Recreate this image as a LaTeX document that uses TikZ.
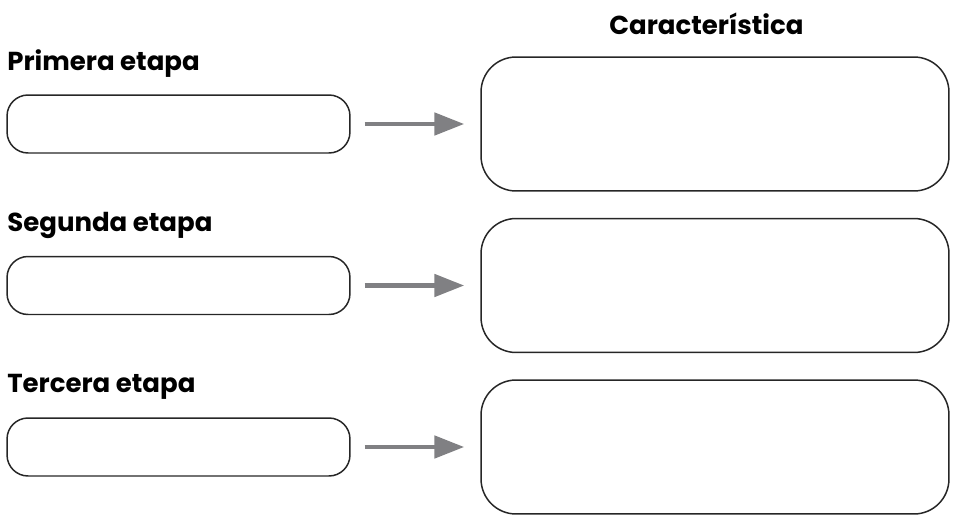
\documentclass[tikz,border=0pt]{standalone}
\usepackage{fontspec}
\setmainfont{Poppins}
\usetikzlibrary{arrows.meta}
\definecolor{flechagris}{RGB}{128,128,131}
\tikzset{
  etapa/.style={draw=black!85,line width=0.85pt,rounded corners=0.42cm,minimum width=6.86cm,minimum height=1.16cm,inner sep=0pt},
  caract/.style={draw=black!85,line width=0.85pt,rounded corners=0.7cm,minimum width=9.36cm,minimum height=2.68cm,inner sep=0pt},
  titulo/.style={anchor=base west,inner sep=0pt,font=\fontsize{14.8}{17}\selectfont\bfseries},
  flecha/.style={-{Triangle[length=0.6cm,width=0.44cm]},draw=flechagris,line width=2.8pt,shorten <=0.28cm,shorten >=0.32cm}
}
\begin{document}
\begin{tikzpicture}[x=0.02cm,y=-0.02cm]
\useasboundingbox (0,0) rectangle (953,514);
\node[titulo] (tcar) at (609,34) {Característica};
\node[titulo] (t1) at (7,70) {Primera etapa};
\node[etapa] (e1) at (178.5,124) {};
\node[caract] (c1) at (715,124) {};
\draw[flecha] (e1) -- (c1);
\node[titulo] (t2) at (7,231) {Segunda etapa};
\node[etapa] (e2) at (178.5,285.5) {};
\node[caract] (c2) at (715,285.5) {};
\draw[flecha] (e2) -- (c2);
\node[titulo] (t3) at (7,392) {Tercera etapa};
\node[etapa] (e3) at (178.5,447) {};
\node[caract] (c3) at (715,447) {};
\draw[flecha] (e3) -- (c3);
\end{tikzpicture}
\end{document}
